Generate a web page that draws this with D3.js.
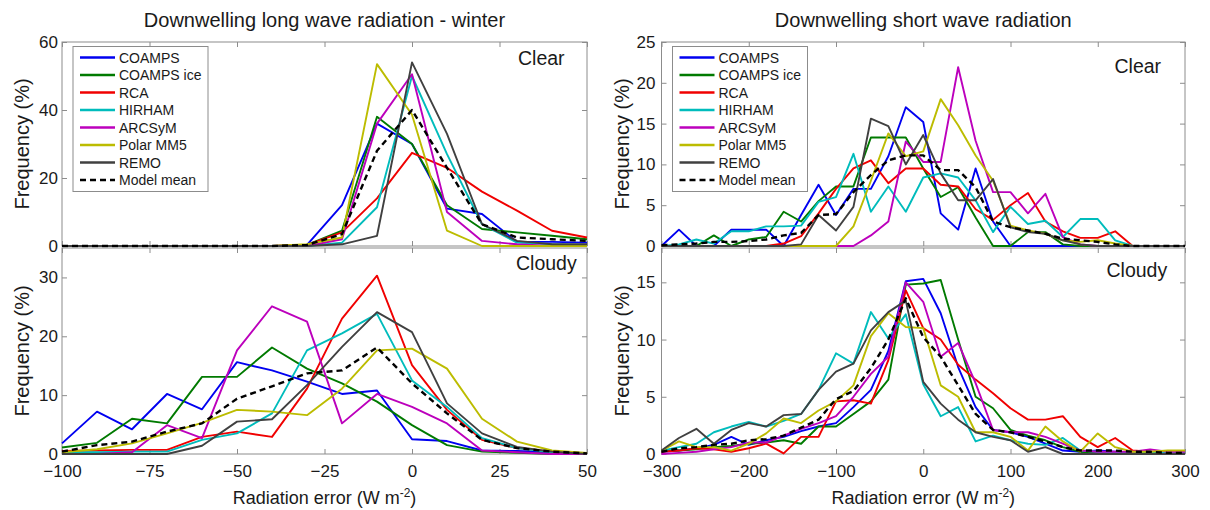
<!DOCTYPE html>
<html>
<head>
<meta charset="utf-8">
<script src="https://cdn.jsdelivr.net/npm/d3@7"></script>
<style>
  body { margin: 0; background: #fff; }
  text { font-family: "Liberation Sans", Arial, Helvetica, sans-serif; fill: #1a1a1a; }
</style>
</head>
<body>
<svg id="chart" width="1210" height="510"></svg>
<script>
// ---- Model names and line colours (same order as every series table below) ----
const models = ["COAMPS", "COAMPS ice", "RCA", "HIRHAM", "ARCSyM", "Polar MM5", "REMO", "Model mean"];
const modelColors = ["#0000f0", "#007a00", "#f00000", "#00bcbc", "#bc00bc", "#bcbc00", "#404040", "#000000"];

// ---- Bin centres (W m-2) ----
const lwBins = [-100, -90, -80, -70, -60, -50, -40, -30, -20, -10, 0, 10, 20, 30, 40, 50];
const swBins = [-300, -280, -260, -240, -220, -200, -180, -160, -140, -120, -100, -80, -60, -40, -20,
                0, 20, 40, 60, 80, 100, 120, 140, 160, 180, 200, 220, 240, 260, 280, 300];

// ---- Tick values ----
const lwXTicks = [-100, -75, -50, -25, 0, 25, 50];
const swXTicks = [-300, -200, -100, 0, 100, 200, 300];
const lwClearYTicks = [0, 20, 40, 60];
const lwCloudyYTicks = [0, 10, 20, 30];
const swClearYTicks = [0, 5, 10, 15, 20, 25];
const swCloudyYTicks = [0, 5, 10, 15];

// ---- Frequency (%) per bin, long wave, clear sky ----
const lwClear = [
  [0, 0, 0, 0, 0, 0, 0, 0.3, 12, 36, 30, 11, 9.4, 1.2, 1.2, 1],
  [0, 0, 0, 0, 0, 0, 0, 0.3, 4.5, 38, 30, 12, 5, 4, 3, 2],
  [0, 0, 0, 0, 0, 0, 0, 0.3, 4, 14, 27.4, 23, 16, 10.4, 4.5, 2.5],
  [0, 0, 0, 0, 0, 0, 0, 0, 1, 11.4, 50, 27, 6.4, 1, 0.5, 0.3],
  [0, 0, 0, 0, 0, 0, 0, 0, 2, 36, 50.5, 10, 1.5, 0.5, 0, 0],
  [0, 0, 0, 0, 0, 0, 0, 0.5, 2.5, 53.5, 38.6, 4.5, 0, 0, 0, 0],
  [0, 0, 0, 0, 0, 0, 0, 0, 0.5, 3, 54, 33, 6.4, 1.5, 0.5, 0.5],
  [0, 0, 0, 0, 0, 0, 0, 0.3, 3.5, 28, 40, 23, 6.4, 2.5, 2, 1.5]
];

// ---- Frequency (%) per bin, long wave, cloudy sky ----
const lwCloudy = [
  [1.8, 7.2, 4.2, 10.2, 7.6, 15.6, 14.2, 12.3, 10.2, 10.8, 2.5, 2.2, 0.6, 0.5, 0.3, 0],
  [1.1, 1.9, 6.0, 5.2, 13.1, 13.1, 18.1, 14.5, 12, 8.9, 4.9, 1.5, 0.4, 0.2, 0, 0],
  [0.5, 0.6, 0.7, 0.7, 2.9, 3.8, 2.9, 11.1, 23, 30.3, 15.1, 7.5, 2.4, 1, 0.4, 0],
  [0.3, 0.3, 0.4, 0.4, 2.4, 3.5, 6.9, 17.6, 20.5, 23.8, 12.5, 8, 2.7, 1, 0.3, 0],
  [0, 0, 0.3, 4.9, 2.7, 17.6, 25.1, 22.5, 5.2, 10.2, 8, 5.2, 0.6, 0.3, 0, 0],
  [0.3, 0.8, 1.8, 3.5, 5.3, 7.5, 7.2, 6.6, 11.1, 17.6, 17.9, 14.5, 6, 2.1, 0.6, 0.2],
  [0, 0, 0, 0, 1.4, 5.5, 5.9, 11.7, 18.2, 24.1, 20.7, 8.6, 3.5, 1.2, 0.4, 0],
  [0.4, 1.5, 2.1, 3.8, 5.2, 9.4, 11.5, 13.7, 14.2, 18.1, 12, 6.9, 2.4, 1, 0.4, 0.1]
];

// ---- Frequency (%) per bin, short wave, clear sky ----
const swClear = [
  [0, 2, 0, 0, 2, 2, 2, 0, 3.8, 7.5, 3.8, 7, 7, 11, 17, 15.2, 4, 2, 9.5, 3, 0, 0, 0, 0, 0, 0, 0, 0, 0, 0, 0],
  [0, 0, 0, 1.3, 0, 0.8, 1.1, 4.2, 3, 5.5, 7.3, 7.3, 13.3, 13.3, 13.3, 9.5, 6, 7.2, 3.5, 0, 0, 1.7, 1.7, 0.2, 0, 0, 0, 0, 0, 0, 0],
  [0, 0, 0, 0, 0, 0, 0, 0.3, 1.2, 4, 7, 9.5, 10.5, 7.7, 9.5, 9.5, 7.5, 7.3, 4.5, 3.2, 5, 6.5, 3, 1.8, 1, 1, 1.8, 0, 0, 0, 0],
  [0, 0.2, 0.8, 0.3, 1.8, 1.8, 2.4, 2.4, 2.5, 5.4, 6, 11.3, 4.2, 7.3, 4.2, 8.4, 8.9, 8.4, 5.6, 1.7, 4.8, 2.7, 3.1, 1.1, 3.3, 3.3, 0.7, 0, 0, 0, 0],
  [0, 0, 0, 0, 0, 0, 0, 0, 0, 0, 0, 0, 1.3, 3, 12.8, 10.3, 10.3, 21.9, 12.9, 6.6, 6.6, 4, 6.4, 1.1, 0.2, 0, 0, 0, 0, 0, 0],
  [0, 0, 0, 0, 0, 0, 0, 0, 0, 0, 0, 2.4, 8, 13.8, 11, 11.6, 18, 14.8, 11.1, 8, 2.5, 1.9, 1.5, 0.7, 0.5, 0.7, 0.3, 0, 0, 0, 0],
  [0, 0, 0, 0, 0, 0, 0, 0, 0.2, 3.8, 1.9, 4.8, 15.6, 14.7, 10, 13.6, 8.9, 5.6, 5.6, 8.2, 2.3, 1.7, 1.5, 0.7, 0.2, 0, 0, 0, 0, 0, 0],
  [0.1, 0.2, 0.3, 0.5, 0.5, 0.6, 0.8, 1.3, 1.6, 3.8, 3.9, 6.6, 8.7, 10.5, 11.1, 11.1, 9.3, 9.3, 7.2, 3, 2.3, 1.9, 1.5, 0.9, 0.7, 0.5, 0.2, 0, 0, 0, 0]
];

// ---- Frequency (%) per bin, short wave, cloudy sky ----
const swCloudy = [
  [0.2, 0.3, 0.5, 0.8, 1.5, 0.8, 1.2, 1.5, 2, 2.4, 2.7, 4.1, 5.6, 9, 15.1, 15.3, 12.3, 7.6, 4.1, 2.1, 1.9, 1.5, 0.9, 0.3, 0.2, 0.3, 0.2, 0.1, 0.1, 0.1, 0.1],
  [0.3, 0.3, 0.4, 0.6, 0.7, 0.9, 1, 1.2, 0.9, 2.4, 2.4, 3.5, 4.6, 6.5, 14.8, 14.9, 15.2, 10, 5, 4, 2.1, 1.6, 1.2, 0.6, 0.2, 0.1, 0.1, 0.1, 0.1, 0.1, 0.1],
  [0.2, 0.3, 0.5, 0.4, 0.2, 0.5, 0.9, 0.05, 1.5, 1.5, 4.6, 4.7, 4.4, 8.2, 14.3, 11, 10, 7.8, 6.5, 5.3, 4, 3, 3, 3.3, 1.5, 0.6, 1.4, 0.3, 0.2, 0.1, 0.1],
  [0.3, 0.6, 0.9, 1.9, 2.4, 2.8, 2.4, 2.9, 3.5, 5.6, 8.8, 7.9, 12.4, 10.1, 12.2, 6.1, 3.3, 4.1, 1.1, 1.6, 1.2, 0.9, 0.8, 1.4, 0.3, 0.2, 0.1, 0.1, 0.1, 0.1, 0.1],
  [0, 0.1, 0.2, 0.4, 0.6, 1, 1, 1.6, 2.2, 2.7, 3.3, 5, 7, 8.5, 15, 13.3, 8.5, 9.7, 6.2, 2.1, 1.9, 1.9, 1.5, 0.9, 0.3, 0.2, 0.2, 0.2, 0.4, 0.2, 0.2],
  [0.3, 1.1, 0.6, 0.6, 0.3, 0.9, 1.8, 3.1, 2.7, 3.8, 4.6, 6, 10.3, 12.3, 11.1, 11, 6, 5, 1.9, 1.9, 1.5, 0.3, 2.4, 1.1, 0.2, 1.8, 0.6, 0.2, 0.2, 0.3, 0.3],
  [0.3, 1.4, 2.2, 0.9, 2.1, 2.7, 2.4, 3.4, 3.5, 5.6, 7.2, 7.9, 10.8, 12.4, 13.4, 6.3, 4.4, 3, 1.9, 1.5, 1.2, 0.2, 0.6, 0, 0, 0, 0, 0, 0, 0, 0],
  [0.2, 0.5, 0.6, 0.8, 0.9, 1.2, 1.3, 1.6, 2.3, 3, 4.8, 5.5, 7.5, 10, 13.6, 10.2, 8.5, 6, 3.5, 2.1, 1.9, 1.5, 1.1, 0.6, 0.3, 0.3, 0.3, 0.2, 0.2, 0.1, 0.1]
];

// ---- Layout ----
const svg = d3.select("#chart");
svg.append("rect").attr("width", 1210).attr("height", 510).attr("fill", "#fff");

const columns = [
  { x0: 62, x1: 587, domain: [-100, 50], bins: lwBins, xTicks: lwXTicks,
    title: "Downwelling long wave radiation - winter" },
  { x0: 661.5, x1: 1185, domain: [-300, 300], bins: swBins, xTicks: swXTicks,
    title: "Downwelling short wave radiation" }
];
const rows = [{ y0: 42, y1: 246 }, { y0: 248, y1: 454 }];

const panels = [
  { col: 0, row: 0, data: lwClear, yMax: 60, yTicks: lwClearYTicks, label: "Clear", lx: 456, ly: 23, legend: true },
  { col: 0, row: 1, data: lwCloudy, yMax: 35, yTicks: lwCloudyYTicks, label: "Cloudy", lx: 454, ly: 22, legend: false },
  { col: 1, row: 0, data: swClear, yMax: 25, yTicks: swClearYTicks, label: "Clear", lx: 453, ly: 31, legend: true },
  { col: 1, row: 1, data: swCloudy, yMax: 18, yTicks: swCloudyYTicks, label: "Cloudy", lx: 445, ly: 29, legend: false }
];

const frameColor = "#8c8c8c";

function styleAxis(g) {
  g.select(".domain").remove();
  g.selectAll(".tick line").attr("stroke", frameColor);
  g.selectAll(".tick text").attr("font-size", 17).attr("fill", "#1a1a1a")
    .attr("font-family", "Liberation Sans, Arial, sans-serif");
}

panels.forEach(p => {
  const c = columns[p.col], r = rows[p.row];
  const x = d3.scaleLinear().domain(c.domain).range([c.x0, c.x1]);
  const y = d3.scaleLinear().domain([0, p.yMax]).range([r.y1, r.y0]);
  const g = svg.append("g");

  // Axes: ticks point inwards on all four sides
  g.append("g").attr("transform", `translate(0,${r.y1})`)
    .call(d3.axisBottom(x).tickValues(c.xTicks).tickSizeInner(-5).tickSizeOuter(0)
      .tickPadding(11).tickFormat(p.row === 1 ? d3.format("d") : () => ""))
    .call(styleAxis);
  g.append("g").attr("transform", `translate(0,${r.y0})`)
    .call(d3.axisTop(x).tickValues(c.xTicks).tickSizeInner(-5).tickSizeOuter(0).tickFormat(() => ""))
    .call(styleAxis);
  g.append("g").attr("transform", `translate(${c.x0},0)`)
    .call(d3.axisLeft(y).tickValues(p.yTicks).tickSizeInner(-5).tickSizeOuter(0)
      .tickPadding(p.col === 0 ? 4 : 6).tickFormat(d3.format("d")))
    .call(styleAxis);
  g.append("g").attr("transform", `translate(${c.x1},0)`)
    .call(d3.axisRight(y).tickValues(p.yTicks).tickSizeInner(-5).tickSizeOuter(0).tickFormat(() => ""))
    .call(styleAxis);

  // Frame
  g.append("rect").attr("x", c.x0).attr("y", r.y0)
    .attr("width", c.x1 - c.x0).attr("height", r.y1 - r.y0)
    .attr("fill", "none").attr("stroke", frameColor).attr("stroke-width", 1);

  // Model curves, model mean drawn last
  const line = d3.line().x((d, i) => x(c.bins[i])).y(d => y(d));
  p.data.forEach((vals, k) => {
    const isMean = k === models.length - 1;
    g.append("path").datum(vals)
      .attr("d", line)
      .attr("fill", "none")
      .attr("stroke", modelColors[k])
      .attr("stroke-width", isMean ? 2.4 : 1.9)
      .attr("stroke-linejoin", "round")
      .attr("stroke-dasharray", isMean ? "6,4" : null);
  });

  // Sky condition tag
  g.append("text").attr("x", c.x0 + p.lx).attr("y", r.y0 + p.ly)
    .attr("font-size", 19.5).text(p.label);

  // Legend
  if (p.legend) {
    const lg = g.append("g").attr("transform", `translate(${c.x0 + 11},${r.y0 + 4.5})`);
    lg.append("rect").attr("width", 135).attr("height", 145)
      .attr("fill", "#fff").attr("stroke", frameColor).attr("stroke-width", 1);
    models.forEach((m, k) => {
      const yy = 11 + k * 17.5;
      lg.append("line").attr("x1", 7).attr("x2", 42).attr("y1", yy).attr("y2", yy)
        .attr("stroke", modelColors[k]).attr("stroke-width", 2.4)
        .attr("stroke-dasharray", k === models.length - 1 ? "6,4" : null);
      lg.append("text").attr("x", 46).attr("y", yy).attr("dy", "0.36em")
        .attr("font-size", 14).text(m);
    });
  }

  // Y axis title
  g.append("text")
    .attr("transform", `translate(${c.x0 - 33},${(r.y0 + r.y1) / 2}) rotate(-90)`)
    .attr("text-anchor", "middle").attr("font-size", 20).text("Frequency (%)");
});

// Column titles and x axis titles
columns.forEach(c => {
  const cx = (c.x0 + c.x1) / 2;
  svg.append("text").attr("x", cx).attr("y", 27).attr("text-anchor", "middle")
    .attr("font-size", 20).text(c.title);
  const xt = svg.append("text").attr("x", cx).attr("y", 504).attr("text-anchor", "middle")
    .attr("font-size", 18);
  xt.append("tspan").text("Radiation error (W m");
  xt.append("tspan").attr("font-size", 12).attr("dy", -7).text("-2");
  xt.append("tspan").attr("dy", 7).text(")");
});
</script>
</body>
</html>
